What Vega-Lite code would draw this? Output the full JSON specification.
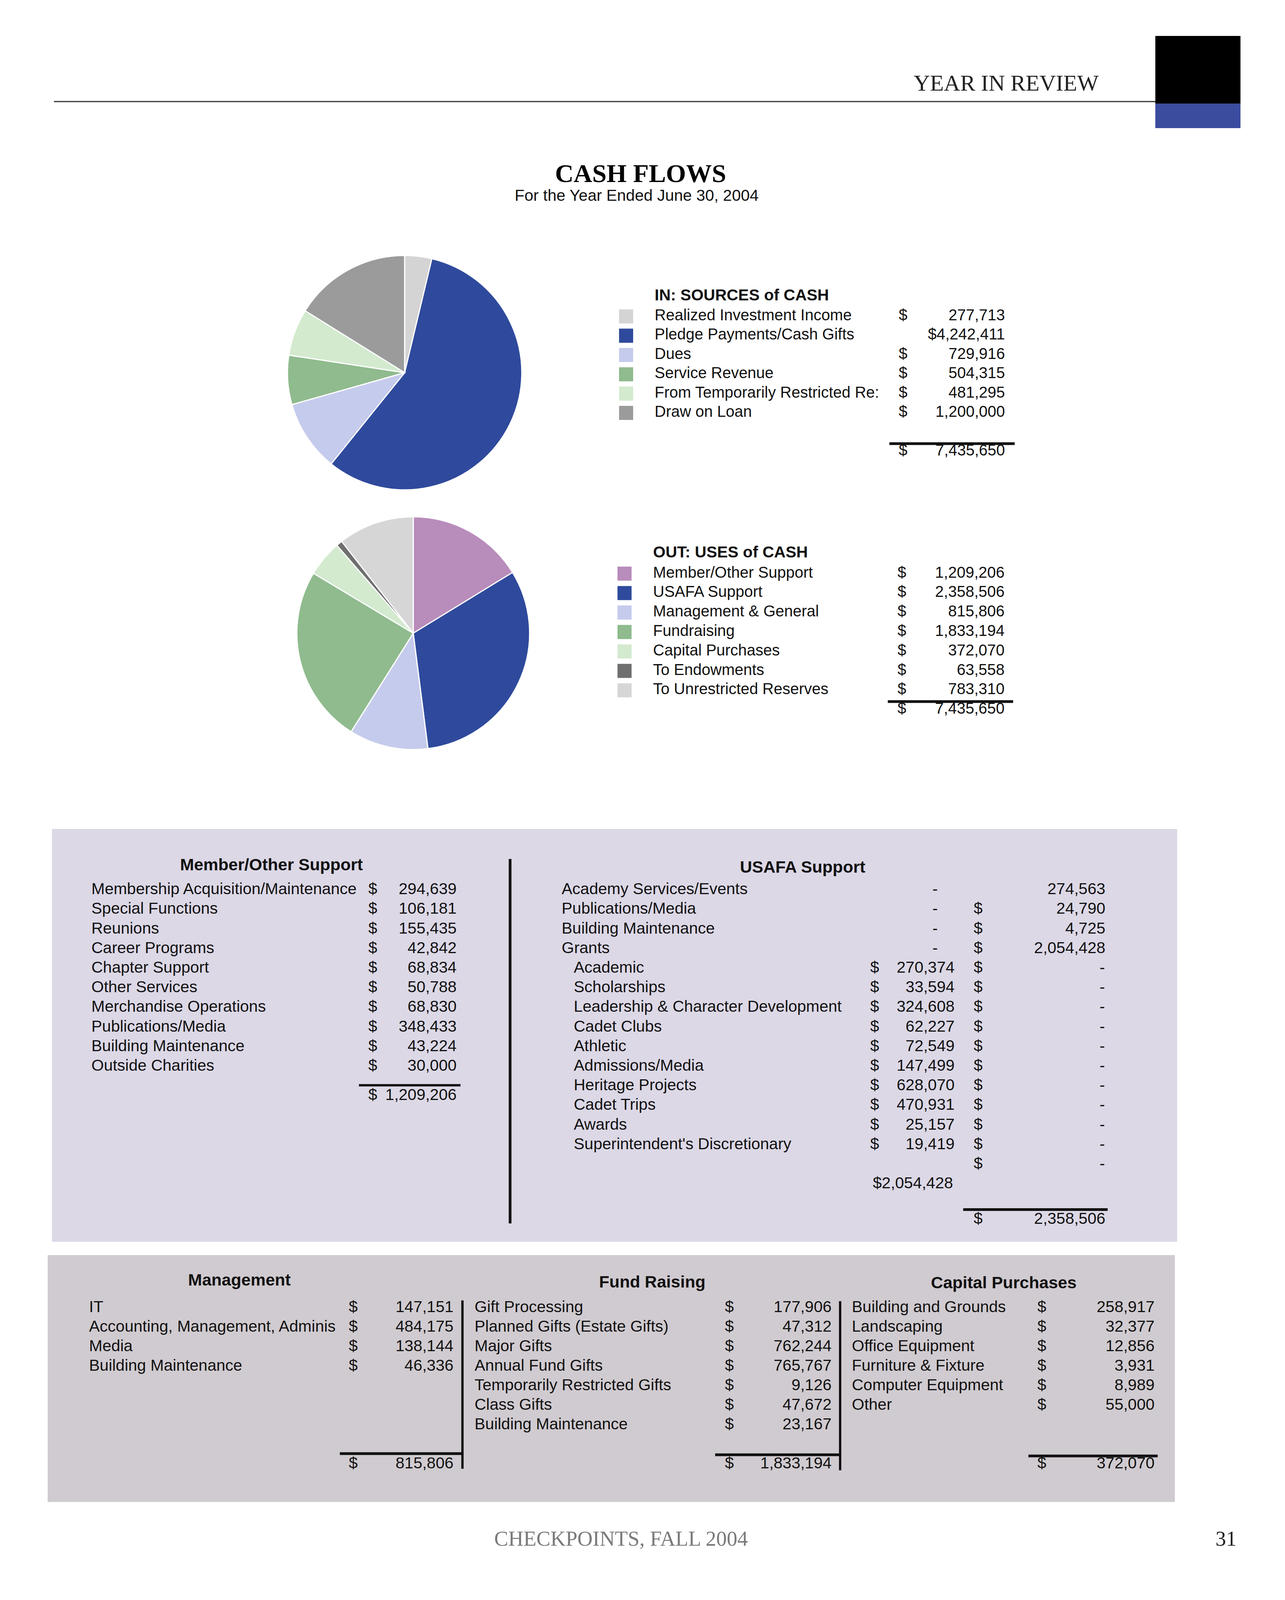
{
  "$schema": "https://vega.github.io/schema/vega-lite/v6.json",
  "width": 3290,
  "height": 4096,
  "autosize": {"type": "fit", "contains": "padding"},
  "padding": 0,
  "background": "white",
  "config": {"view": {"stroke": null}, "text": {"font": "Liberation Sans", "color": "#111111"}},
  "datasets": {
    "text": [
      {"id": "yir", "text": "YEAR IN REVIEW"},
      {"id": "title", "text": "CASH FLOWS"},
      {"id": "subtitle", "text": "For the Year Ended June 30, 2004"},
      {"id": "in", "text": "IN:  SOURCES of CASH"},
      {"id": "out", "text": "OUT:  USES of CASH"},
      {"id": "h_member", "text": "Member/Other Support"},
      {"id": "h_usafa", "text": "USAFA Support"},
      {"id": "h_mgmt", "text": "Management"},
      {"id": "h_fund", "text": "Fund Raising"},
      {"id": "h_cap", "text": "Capital Purchases"},
      {"id": "footer", "text": "CHECKPOINTS, FALL 2004"},
      {"id": "page", "text": "31"}
    ],
    "sources": [
      {"i": 0, "name": "Realized Investment Income", "amount": 277713, "dollar": "sep"},
      {"i": 1, "name": "Pledge Payments/Cash Gifts", "amount": 4242411, "dollar": "attached"},
      {"i": 2, "name": "Dues", "amount": 729916, "dollar": "sep"},
      {"i": 3, "name": "Service Revenue", "amount": 504315, "dollar": "sep"},
      {"i": 4, "name": "From Temporarily Restricted Re:", "amount": 481295, "dollar": "sep"},
      {"i": 5, "name": "Draw on Loan", "amount": 1200000, "dollar": "sep"}
    ],
    "sources_total": [{"i": 7, "amount": 7435650}],
    "uses": [
      {"i": 0, "name": "Member/Other Support", "amount": 1209206},
      {"i": 1, "name": "USAFA Support", "amount": 2358506},
      {"i": 2, "name": "Management & General", "amount": 815806},
      {"i": 3, "name": "Fundraising", "amount": 1833194},
      {"i": 4, "name": "Capital Purchases", "amount": 372070},
      {"i": 5, "name": "To Endowments", "amount": 63558},
      {"i": 6, "name": "To Unrestricted Reserves", "amount": 783310}
    ],
    "uses_total": [{"i": 7, "amount": 7435650}],
    "member": [
      {"i": 0, "label": "Membership Acquisition/Maintenance", "amount": 294639},
      {"i": 1, "label": "Special Functions", "amount": 106181},
      {"i": 2, "label": "Reunions", "amount": 155435},
      {"i": 3, "label": "Career Programs", "amount": 42842},
      {"i": 4, "label": "Chapter Support", "amount": 68834},
      {"i": 5, "label": "Other Services", "amount": 50788},
      {"i": 6, "label": "Merchandise Operations", "amount": 68830},
      {"i": 7, "label": "Publications/Media", "amount": 348433},
      {"i": 8, "label": "Building Maintenance", "amount": 43224},
      {"i": 9, "label": "Outside Charities", "amount": 30000}
    ],
    "member_total": [{"i": 10, "amount": 1209206}],
    "usafa": [
      {"i": 0, "label": "Academy Services/Events", "indent": 0, "z1": true, "v2": 274563},
      {"i": 1, "label": "Publications/Media", "indent": 0, "z1": true, "d2": true, "v2": 24790},
      {"i": 2, "label": "Building Maintenance", "indent": 0, "z1": true, "d2": true, "v2": 4725},
      {"i": 3, "label": "Grants", "indent": 0, "z1": true, "d2": true, "v2": 2054428},
      {"i": 4, "label": "Academic", "indent": 1, "d1": true, "v1": 270374, "d2": true, "z2": true},
      {"i": 5, "label": "Scholarships", "indent": 1, "d1": true, "v1": 33594, "d2": true, "z2": true},
      {"i": 6, "label": "Leadership & Character Development", "indent": 1, "d1": true, "v1": 324608, "d2": true, "z2": true},
      {"i": 7, "label": "Cadet Clubs", "indent": 1, "d1": true, "v1": 62227, "d2": true, "z2": true},
      {"i": 8, "label": "Athletic", "indent": 1, "d1": true, "v1": 72549, "d2": true, "z2": true},
      {"i": 9, "label": "Admissions/Media", "indent": 1, "d1": true, "v1": 147499, "d2": true, "z2": true},
      {"i": 10, "label": "Heritage Projects", "indent": 1, "d1": true, "v1": 628070, "d2": true, "z2": true},
      {"i": 11, "label": "Cadet Trips", "indent": 1, "d1": true, "v1": 470931, "d2": true, "z2": true},
      {"i": 12, "label": "Awards", "indent": 1, "d1": true, "v1": 25157, "d2": true, "z2": true},
      {"i": 13, "label": "Superintendent's Discretionary", "indent": 1, "d1": true, "v1": 19419, "d2": true, "z2": true},
      {"i": 14, "label": "", "indent": 1, "d2": true, "z2": true},
      {"i": 15, "label": "", "indent": 1, "sub": 2054428}
    ],
    "usafa_total": [{"i": 16, "amount": 2358506}],
    "mgmt": [
      {"i": 0, "label": "IT", "amount": 147151},
      {"i": 1, "label": "Accounting, Management, Adminis", "amount": 484175},
      {"i": 2, "label": "Media", "amount": 138144},
      {"i": 3, "label": "Building Maintenance", "amount": 46336}
    ],
    "mgmt_total": [{"i": 8, "amount": 815806}],
    "fund": [
      {"i": 0, "label": "Gift Processing", "amount": 177906},
      {"i": 1, "label": "Planned Gifts (Estate Gifts)", "amount": 47312},
      {"i": 2, "label": "Major Gifts", "amount": 762244},
      {"i": 3, "label": "Annual Fund Gifts", "amount": 765767},
      {"i": 4, "label": "Temporarily Restricted Gifts", "amount": 9126},
      {"i": 5, "label": "Class Gifts", "amount": 47672},
      {"i": 6, "label": "Building Maintenance", "amount": 23167}
    ],
    "fund_total": [{"i": 8, "amount": 1833194}],
    "capital": [
      {"i": 0, "label": "Building and Grounds", "amount": 258917},
      {"i": 1, "label": "Landscaping", "amount": 32377},
      {"i": 2, "label": "Office Equipment", "amount": 12856},
      {"i": 3, "label": "Furniture & Fixture", "amount": 3931},
      {"i": 4, "label": "Computer Equipment", "amount": 8989},
      {"i": 5, "label": "Other", "amount": 55000}
    ],
    "capital_total": [{"i": 8, "amount": 372070}]
  },
  "resolve": {"scale": {"y": "independent", "theta": "independent"}},
  "layer": [
    {"data": {"values": [{"id": "lavender box"}]}, "mark": {"type": "rect", "fill": "#dcd8e6"}, "encoding": {"x": {"value": 133}, "x2": {"value": 3014}, "y": {"value": 2122}, "y2": {"value": 3179}}},
    {"data": {"values": [{"id": "gray box"}]}, "mark": {"type": "rect", "fill": "#d0cbd0"}, "encoding": {"x": {"value": 122}, "x2": {"value": 3008}, "y": {"value": 3213}, "y2": {"value": 3845}}},
    {"data": {"values": [{"id": "header rule"}]}, "mark": {"type": "rule", "stroke": "#333333", "strokeWidth": 3}, "encoding": {"x": {"value": 138}, "x2": {"value": 2961}, "y": {"value": 260}}},
    {"data": {"values": [{"id": "black block"}]}, "mark": {"type": "rect", "fill": "#000000"}, "encoding": {"x": {"value": 2958}, "x2": {"value": 3176}, "y": {"value": 92}, "y2": {"value": 265}}},
    {"data": {"values": [{"id": "blue block"}]}, "mark": {"type": "rect", "fill": "#3b4c9f"}, "encoding": {"x": {"value": 2958}, "x2": {"value": 3176}, "y": {"value": 265}, "y2": {"value": 328}}},
    {"data": {"values": [{"id": "divider usafa"}]}, "mark": {"type": "rule", "stroke": "#111111", "strokeWidth": 7}, "encoding": {"x": {"value": 1306}, "y": {"value": 2199}, "y2": {"value": 3132}}},
    {"data": {"values": [{"id": "divider mgmt"}]}, "mark": {"type": "rule", "stroke": "#111111", "strokeWidth": 6}, "encoding": {"x": {"value": 1184}, "y": {"value": 3329}, "y2": {"value": 3760}}},
    {"data": {"values": [{"id": "divider fund"}]}, "mark": {"type": "rule", "stroke": "#111111", "strokeWidth": 6}, "encoding": {"x": {"value": 2151}, "y": {"value": 3331}, "y2": {"value": 3764}}},

    {"data": {"name": "text"}, "transform": [{"filter": "datum.id === 'yir'"}], "mark": {"type": "text", "font": "Liberation Serif", "fontSize": 58, "align": "center", "baseline": "alphabetic", "color": "#222222"}, "encoding": {"x": {"value": 2576}, "y": {"value": 232}, "text": {"field": "text"}}},
    {"data": {"name": "text"}, "transform": [{"filter": "datum.id === 'title'"}], "mark": {"type": "text", "font": "Liberation Serif", "fontWeight": "bold", "fontSize": 66, "align": "center", "baseline": "alphabetic", "color": "#000000"}, "encoding": {"x": {"value": 1640}, "y": {"value": 466}, "text": {"field": "text"}}},
    {"data": {"name": "text"}, "transform": [{"filter": "datum.id === 'subtitle'"}], "mark": {"type": "text", "fontSize": 41, "align": "center", "baseline": "alphabetic"}, "encoding": {"x": {"value": 1630}, "y": {"value": 514}, "text": {"field": "text"}}},
    {"data": {"name": "text"}, "transform": [{"filter": "datum.id === 'in'"}], "mark": {"type": "text", "fontSize": 41, "fontWeight": "bold", "align": "left", "baseline": "alphabetic"}, "encoding": {"x": {"value": 1676}, "y": {"value": 769}, "text": {"field": "text"}}},
    {"data": {"name": "text"}, "transform": [{"filter": "datum.id === 'out'"}], "mark": {"type": "text", "fontSize": 41, "fontWeight": "bold", "align": "left", "baseline": "alphabetic"}, "encoding": {"x": {"value": 1672}, "y": {"value": 1427}, "text": {"field": "text"}}},
    {"data": {"name": "text"}, "transform": [{"filter": "datum.id === 'h_member'"}], "mark": {"type": "text", "fontSize": 43, "fontWeight": "bold", "align": "center", "baseline": "alphabetic"}, "encoding": {"x": {"value": 695}, "y": {"value": 2228}, "text": {"field": "text"}}},
    {"data": {"name": "text"}, "transform": [{"filter": "datum.id === 'h_usafa'"}], "mark": {"type": "text", "fontSize": 43, "fontWeight": "bold", "align": "center", "baseline": "alphabetic"}, "encoding": {"x": {"value": 2055}, "y": {"value": 2234}, "text": {"field": "text"}}},
    {"data": {"name": "text"}, "transform": [{"filter": "datum.id === 'h_mgmt'"}], "mark": {"type": "text", "fontSize": 43, "fontWeight": "bold", "align": "center", "baseline": "alphabetic"}, "encoding": {"x": {"value": 613}, "y": {"value": 3291}, "text": {"field": "text"}}},
    {"data": {"name": "text"}, "transform": [{"filter": "datum.id === 'h_fund'"}], "mark": {"type": "text", "fontSize": 43, "fontWeight": "bold", "align": "center", "baseline": "alphabetic"}, "encoding": {"x": {"value": 1670}, "y": {"value": 3296}, "text": {"field": "text"}}},
    {"data": {"name": "text"}, "transform": [{"filter": "datum.id === 'h_cap'"}], "mark": {"type": "text", "fontSize": 43, "fontWeight": "bold", "align": "center", "baseline": "alphabetic"}, "encoding": {"x": {"value": 2570}, "y": {"value": 3298}, "text": {"field": "text"}}},
    {"data": {"name": "text"}, "transform": [{"filter": "datum.id === 'footer'"}], "mark": {"type": "text", "font": "Liberation Serif", "fontSize": 54, "align": "center", "baseline": "alphabetic", "color": "#7a7a7a"}, "encoding": {"x": {"value": 1590}, "y": {"value": 3957}, "text": {"field": "text"}}},
    {"data": {"name": "text"}, "transform": [{"filter": "datum.id === 'page'"}], "mark": {"type": "text", "font": "Liberation Serif", "fontSize": 54, "align": "right", "baseline": "alphabetic", "color": "#222222"}, "encoding": {"x": {"value": 3166}, "y": {"value": 3957}, "text": {"field": "text"}}},

    {"data": {"name": "sources"}, "mark": {"type": "arc", "outerRadius": 300, "stroke": "white", "strokeWidth": 3}, "encoding": {"x": {"value": 1036}, "y": {"value": 954}, "theta": {"field": "amount", "type": "quantitative", "stack": true}, "order": {"field": "i", "type": "quantitative"}, "color": {"field": "name", "type": "nominal", "legend": null, "scale": {"domain": ["Realized Investment Income", "Pledge Payments/Cash Gifts", "Dues", "Service Revenue", "From Temporarily Restricted Re:", "Draw on Loan", "Member/Other Support", "USAFA Support", "Management & General", "Fundraising", "Capital Purchases", "To Endowments", "To Unrestricted Reserves"], "range": ["#d4d4d4", "#2f4a9c", "#c5cbec", "#8fbb8e", "#d3eacf", "#9b9b9b", "#b88cbb", "#2f4a9c", "#c5cbec", "#8fbb8e", "#d3eacf", "#6f6f6f", "#d6d6d6"]}}}},
    {"data": {"name": "uses"}, "mark": {"type": "arc", "outerRadius": 298, "stroke": "white", "strokeWidth": 3}, "encoding": {"x": {"value": 1058}, "y": {"value": 1621}, "theta": {"field": "amount", "type": "quantitative", "stack": true}, "order": {"field": "i", "type": "quantitative"}, "color": {"field": "name", "type": "nominal", "legend": null, "scale": {"domain": ["Realized Investment Income", "Pledge Payments/Cash Gifts", "Dues", "Service Revenue", "From Temporarily Restricted Re:", "Draw on Loan", "Member/Other Support", "USAFA Support", "Management & General", "Fundraising", "Capital Purchases", "To Endowments", "To Unrestricted Reserves"], "range": ["#d4d4d4", "#2f4a9c", "#c5cbec", "#8fbb8e", "#d3eacf", "#9b9b9b", "#b88cbb", "#2f4a9c", "#c5cbec", "#8fbb8e", "#d3eacf", "#6f6f6f", "#d6d6d6"]}}}},

    {
      "encoding": {"y": {"field": "i", "type": "quantitative", "axis": null, "scale": {"domain": [0, 1], "range": [820, 869.4], "nice": false, "zero": false}}},
      "layer": [
        {"data": {"name": "sources"}, "mark": {"type": "point", "shape": "square", "filled": true, "size": 1300, "opacity": 1, "strokeWidth": 0, "yOffset": -10}, "encoding": {"x": {"value": 1603}, "color": {"field": "name", "type": "nominal", "legend": null, "scale": {"domain": ["Realized Investment Income", "Pledge Payments/Cash Gifts", "Dues", "Service Revenue", "From Temporarily Restricted Re:", "Draw on Loan", "Member/Other Support", "USAFA Support", "Management & General", "Fundraising", "Capital Purchases", "To Endowments", "To Unrestricted Reserves"], "range": ["#d4d4d4", "#2f4a9c", "#c5cbec", "#8fbb8e", "#d3eacf", "#9b9b9b", "#b88cbb", "#2f4a9c", "#c5cbec", "#8fbb8e", "#d3eacf", "#6f6f6f", "#d6d6d6"]}}}},
        {"data": {"name": "sources"}, "mark": {"type": "text", "fontSize": 40, "align": "left", "baseline": "alphabetic"}, "encoding": {"x": {"value": 1676}, "text": {"field": "name"}}},
        {"data": {"name": "sources"}, "transform": [{"filter": "datum.dollar === 'sep'"}], "mark": {"type": "text", "fontSize": 40, "align": "left", "baseline": "alphabetic", "text": "$"}, "encoding": {"x": {"value": 2301}}},
        {"data": {"name": "sources"}, "transform": [{"filter": "datum.dollar === 'sep'"}], "mark": {"type": "text", "fontSize": 40, "align": "right", "baseline": "alphabetic"}, "encoding": {"x": {"value": 2573}, "text": {"field": "amount", "type": "quantitative", "format": ",d"}}},
        {"data": {"name": "sources"}, "transform": [{"filter": "datum.dollar === 'attached'"}], "mark": {"type": "text", "fontSize": 40, "align": "right", "baseline": "alphabetic"}, "encoding": {"x": {"value": 2573}, "text": {"field": "amount", "type": "quantitative", "format": "$,d"}}},
        {"data": {"name": "sources_total"}, "mark": {"type": "rule", "stroke": "#111111", "strokeWidth": 7, "yOffset": -30}, "encoding": {"x": {"value": 2277}, "x2": {"value": 2598}}},
        {"data": {"name": "sources_total"}, "mark": {"type": "text", "fontSize": 40, "align": "left", "baseline": "alphabetic", "text": "$"}, "encoding": {"x": {"value": 2301}}},
        {"data": {"name": "sources_total"}, "mark": {"type": "text", "fontSize": 40, "align": "right", "baseline": "alphabetic"}, "encoding": {"x": {"value": 2573}, "text": {"field": "amount", "type": "quantitative", "format": ",d"}}}
      ]
    },

    {
      "encoding": {"y": {"field": "i", "type": "quantitative", "axis": null, "scale": {"domain": [0, 1], "range": [1478.5, 1528.3], "nice": false, "zero": false}}},
      "layer": [
        {"data": {"name": "uses"}, "mark": {"type": "point", "shape": "square", "filled": true, "size": 1300, "opacity": 1, "strokeWidth": 0, "yOffset": -10}, "encoding": {"x": {"value": 1599}, "color": {"field": "name", "type": "nominal", "legend": null, "scale": {"domain": ["Realized Investment Income", "Pledge Payments/Cash Gifts", "Dues", "Service Revenue", "From Temporarily Restricted Re:", "Draw on Loan", "Member/Other Support", "USAFA Support", "Management & General", "Fundraising", "Capital Purchases", "To Endowments", "To Unrestricted Reserves"], "range": ["#d4d4d4", "#2f4a9c", "#c5cbec", "#8fbb8e", "#d3eacf", "#9b9b9b", "#b88cbb", "#2f4a9c", "#c5cbec", "#8fbb8e", "#d3eacf", "#6f6f6f", "#d6d6d6"]}}}},
        {"data": {"name": "uses"}, "mark": {"type": "text", "fontSize": 40, "align": "left", "baseline": "alphabetic"}, "encoding": {"x": {"value": 1672}, "text": {"field": "name"}}},
        {"data": {"name": "uses"}, "mark": {"type": "text", "fontSize": 40, "align": "left", "baseline": "alphabetic", "text": "$"}, "encoding": {"x": {"value": 2298}}},
        {"data": {"name": "uses"}, "mark": {"type": "text", "fontSize": 40, "align": "right", "baseline": "alphabetic"}, "encoding": {"x": {"value": 2572}, "text": {"field": "amount", "type": "quantitative", "format": ",d"}}},
        {"data": {"name": "uses_total"}, "mark": {"type": "rule", "stroke": "#111111", "strokeWidth": 7, "yOffset": -31}, "encoding": {"x": {"value": 2273}, "x2": {"value": 2594}}},
        {"data": {"name": "uses_total"}, "mark": {"type": "text", "fontSize": 40, "align": "left", "baseline": "alphabetic", "text": "$"}, "encoding": {"x": {"value": 2298}}},
        {"data": {"name": "uses_total"}, "mark": {"type": "text", "fontSize": 40, "align": "right", "baseline": "alphabetic"}, "encoding": {"x": {"value": 2572}, "text": {"field": "amount", "type": "quantitative", "format": ",d"}}}
      ]
    },

    {
      "encoding": {"y": {"field": "i", "type": "quantitative", "axis": null, "scale": {"domain": [0, 1], "range": [2289.2, 2339.4], "nice": false, "zero": false}}},
      "layer": [
        {"data": {"name": "member"}, "mark": {"type": "text", "fontSize": 41, "align": "left", "baseline": "alphabetic"}, "encoding": {"x": {"value": 234}, "text": {"field": "label"}}},
        {"data": {"name": "member"}, "mark": {"type": "text", "fontSize": 41, "align": "left", "baseline": "alphabetic", "text": "$"}, "encoding": {"x": {"value": 943}}},
        {"data": {"name": "member"}, "mark": {"type": "text", "fontSize": 41, "align": "right", "baseline": "alphabetic"}, "encoding": {"x": {"value": 1169}, "text": {"field": "amount", "type": "quantitative", "format": ",d"}}},
        {"data": {"name": "member_total"}, "mark": {"type": "rule", "stroke": "#111111", "strokeWidth": 6, "yOffset": -13}, "encoding": {"x": {"value": 919}, "x2": {"value": 1179}}},
        {"data": {"name": "member_total"}, "mark": {"type": "text", "fontSize": 41, "align": "left", "baseline": "alphabetic", "text": "$", "yOffset": 25}, "encoding": {"x": {"value": 943}}},
        {"data": {"name": "member_total"}, "mark": {"type": "text", "fontSize": 41, "align": "right", "baseline": "alphabetic", "yOffset": 25}, "encoding": {"x": {"value": 1169}, "text": {"field": "amount", "type": "quantitative", "format": ",d"}}},

        {"data": {"name": "usafa"}, "transform": [{"filter": "datum.indent === 0"}], "mark": {"type": "text", "fontSize": 41, "align": "left", "baseline": "alphabetic"}, "encoding": {"x": {"value": 1438}, "text": {"field": "label"}}},
        {"data": {"name": "usafa"}, "transform": [{"filter": "datum.indent === 1"}], "mark": {"type": "text", "fontSize": 41, "align": "left", "baseline": "alphabetic"}, "encoding": {"x": {"value": 1469}, "text": {"field": "label"}}},
        {"data": {"name": "usafa"}, "transform": [{"filter": "datum.d1 === true"}], "mark": {"type": "text", "fontSize": 41, "align": "left", "baseline": "alphabetic", "text": "$"}, "encoding": {"x": {"value": 2228}}},
        {"data": {"name": "usafa"}, "transform": [{"filter": "isValid(datum.v1)"}], "mark": {"type": "text", "fontSize": 41, "align": "right", "baseline": "alphabetic"}, "encoding": {"x": {"value": 2444}, "text": {"field": "v1", "type": "quantitative", "format": ",d"}}},
        {"data": {"name": "usafa"}, "transform": [{"filter": "datum.z1 === true"}], "mark": {"type": "text", "fontSize": 41, "align": "center", "baseline": "alphabetic", "text": "-"}, "encoding": {"x": {"value": 2394}}},
        {"data": {"name": "usafa"}, "transform": [{"filter": "datum.d2 === true"}], "mark": {"type": "text", "fontSize": 41, "align": "left", "baseline": "alphabetic", "text": "$"}, "encoding": {"x": {"value": 2493}}},
        {"data": {"name": "usafa"}, "transform": [{"filter": "isValid(datum.v2)"}], "mark": {"type": "text", "fontSize": 41, "align": "right", "baseline": "alphabetic"}, "encoding": {"x": {"value": 2830}, "text": {"field": "v2", "type": "quantitative", "format": ",d"}}},
        {"data": {"name": "usafa"}, "transform": [{"filter": "datum.z2 === true"}], "mark": {"type": "text", "fontSize": 41, "align": "center", "baseline": "alphabetic", "text": "-"}, "encoding": {"x": {"value": 2822}}},
        {"data": {"name": "usafa"}, "transform": [{"filter": "isValid(datum.sub)"}], "mark": {"type": "text", "fontSize": 41, "align": "right", "baseline": "alphabetic"}, "encoding": {"x": {"value": 2440}, "text": {"field": "sub", "type": "quantitative", "format": "$,d"}}},
        {"data": {"name": "usafa_total"}, "mark": {"type": "rule", "stroke": "#111111", "strokeWidth": 7, "yOffset": 4}, "encoding": {"x": {"value": 2466}, "x2": {"value": 2836}}},
        {"data": {"name": "usafa_total"}, "mark": {"type": "text", "fontSize": 41, "align": "left", "baseline": "alphabetic", "text": "$", "yOffset": 41}, "encoding": {"x": {"value": 2493}}},
        {"data": {"name": "usafa_total"}, "mark": {"type": "text", "fontSize": 41, "align": "right", "baseline": "alphabetic", "yOffset": 41}, "encoding": {"x": {"value": 2830}, "text": {"field": "amount", "type": "quantitative", "format": ",d"}}}
      ]
    },

    {
      "encoding": {"y": {"field": "i", "type": "quantitative", "axis": null, "scale": {"domain": [0, 1], "range": [3358.5, 3408.6], "nice": false, "zero": false}}},
      "layer": [
        {"data": {"name": "mgmt"}, "mark": {"type": "text", "fontSize": 41, "align": "left", "baseline": "alphabetic"}, "encoding": {"x": {"value": 228}, "text": {"field": "label"}}},
        {"data": {"name": "mgmt"}, "mark": {"type": "text", "fontSize": 41, "align": "left", "baseline": "alphabetic", "text": "$"}, "encoding": {"x": {"value": 893}}},
        {"data": {"name": "mgmt"}, "mark": {"type": "text", "fontSize": 41, "align": "right", "baseline": "alphabetic"}, "encoding": {"x": {"value": 1161}, "text": {"field": "amount", "type": "quantitative", "format": ",d"}}},
        {"data": {"name": "mgmt_total"}, "mark": {"type": "rule", "stroke": "#111111", "strokeWidth": 7, "yOffset": -38}, "encoding": {"x": {"value": 870}, "x2": {"value": 1184}}},
        {"data": {"name": "mgmt_total"}, "mark": {"type": "text", "fontSize": 41, "align": "left", "baseline": "alphabetic", "text": "$"}, "encoding": {"x": {"value": 893}}},
        {"data": {"name": "mgmt_total"}, "mark": {"type": "text", "fontSize": 41, "align": "right", "baseline": "alphabetic"}, "encoding": {"x": {"value": 1161}, "text": {"field": "amount", "type": "quantitative", "format": ",d"}}},

        {"data": {"name": "fund"}, "mark": {"type": "text", "fontSize": 41, "align": "left", "baseline": "alphabetic"}, "encoding": {"x": {"value": 1215}, "text": {"field": "label"}}},
        {"data": {"name": "fund"}, "mark": {"type": "text", "fontSize": 41, "align": "left", "baseline": "alphabetic", "text": "$"}, "encoding": {"x": {"value": 1856}}},
        {"data": {"name": "fund"}, "mark": {"type": "text", "fontSize": 41, "align": "right", "baseline": "alphabetic"}, "encoding": {"x": {"value": 2129}, "text": {"field": "amount", "type": "quantitative", "format": ",d"}}},
        {"data": {"name": "fund_total"}, "mark": {"type": "rule", "stroke": "#111111", "strokeWidth": 7, "yOffset": -35}, "encoding": {"x": {"value": 1831}, "x2": {"value": 2151}}},
        {"data": {"name": "fund_total"}, "mark": {"type": "text", "fontSize": 41, "align": "left", "baseline": "alphabetic", "text": "$"}, "encoding": {"x": {"value": 1856}}},
        {"data": {"name": "fund_total"}, "mark": {"type": "text", "fontSize": 41, "align": "right", "baseline": "alphabetic"}, "encoding": {"x": {"value": 2129}, "text": {"field": "amount", "type": "quantitative", "format": ",d"}}},

        {"data": {"name": "capital"}, "mark": {"type": "text", "fontSize": 41, "align": "left", "baseline": "alphabetic"}, "encoding": {"x": {"value": 2181}, "text": {"field": "label"}}},
        {"data": {"name": "capital"}, "mark": {"type": "text", "fontSize": 41, "align": "left", "baseline": "alphabetic", "text": "$"}, "encoding": {"x": {"value": 2656}}},
        {"data": {"name": "capital"}, "mark": {"type": "text", "fontSize": 41, "align": "right", "baseline": "alphabetic"}, "encoding": {"x": {"value": 2956}, "text": {"field": "amount", "type": "quantitative", "format": ",d"}}},
        {"data": {"name": "capital_total"}, "mark": {"type": "rule", "stroke": "#111111", "strokeWidth": 7, "yOffset": -32}, "encoding": {"x": {"value": 2633}, "x2": {"value": 2964}}},
        {"data": {"name": "capital_total"}, "mark": {"type": "text", "fontSize": 41, "align": "left", "baseline": "alphabetic", "text": "$"}, "encoding": {"x": {"value": 2656}}},
        {"data": {"name": "capital_total"}, "mark": {"type": "text", "fontSize": 41, "align": "right", "baseline": "alphabetic"}, "encoding": {"x": {"value": 2956}, "text": {"field": "amount", "type": "quantitative", "format": ",d"}}}
      ]
    }
  ]
}
